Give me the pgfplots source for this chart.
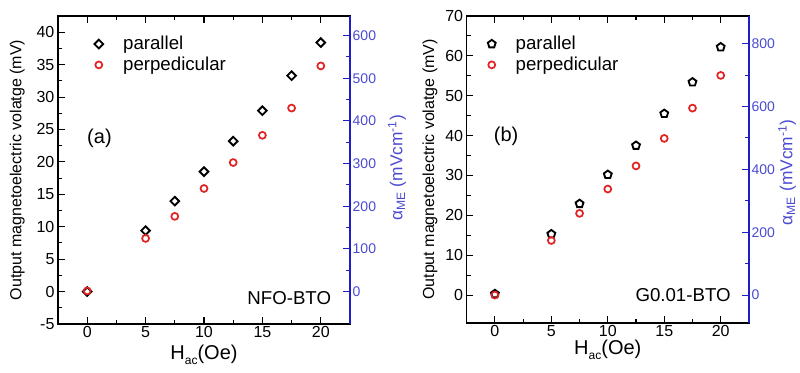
\documentclass[border=0pt]{standalone}
\usepackage{pgfplots}
\pgfplotsset{compat=1.18}
\usepackage{fontspec}
\setmainfont{Liberation Sans}
\usetikzlibrary{plotmarks}
\definecolor{axblue}{RGB}{30,30,200}
\definecolor{lblblue}{RGB}{75,75,210}
\definecolor{mred}{RGB}{225,35,35}

\pgfplotstableread{
x par perp
0 0.0 0.1
5 9.4 8.2
7.5 13.95 11.6
10 18.5 15.9
12.5 23.2 19.9
15 27.9 24.1
17.5 33.3 28.3
20 38.4 34.8
}\dataA
\pgfplotstableread{
x par perp
0 0.3 0.0
5 15.3 13.7
7.5 22.9 20.5
10 30.2 26.6
12.5 37.5 32.4
15 45.5 39.3
17.5 53.4 46.9
20 62.2 55.1
}\dataB

\pgfplotsset{
  base/.style={
    scale only axis,
    /pgf/number format/assume math mode=true,
    tick align=inside,
    major tick length=5pt, minor tick length=3pt,
    every tick/.style={line width=0.8pt},
    axis line style={line width=1pt},
    xmin=-2.5, xmax=22.5,
  },
  main/.style={
    base,
    xtick={0,5,10,15,20}, minor x tick num=1,
    xtick pos=both, xticklabel pos=left,
    ytick pos=left,
    ticklabel style={font=\fontsize{12}{14}\selectfont},
    xticklabel style={inner sep=1.5pt},
    yticklabel style={inner sep=2.5pt},
    xlabel={H\raisebox{-0.55ex}{\fontsize{9}{10}\selectfont ac}(Oe)},
    xlabel style={font=\fontsize{15}{17}\selectfont, anchor=base},
    ylabel={Output magnetoelectric volatge (mV)},
    ylabel style={font=\fontsize{12}{14}\selectfont, anchor=center},
    legend cell align=left,
    legend style={draw=none, fill=none, inner sep=0pt, anchor=north west,
      font=\fontsize{14}{16}\selectfont,
      nodes={inner sep=0pt}, row sep=4pt,
      /tikz/every odd column/.append style={column sep=15pt}},
  },
  right/.style={
    base,
    axis y line*=right, axis x line=none,
    ytick pos=right,
    y axis line style={axblue, line width=1pt},
    ytick style={axblue},
    yticklabel style={lblblue, font=\fontsize{10.5}{12}\selectfont, xshift=-1.5pt},
    ylabel={α\textsubscript{ME} (mVcm\textsuperscript{-1})},
    ylabel style={lblblue, font=\fontsize{13}{15}\selectfont, anchor=center},
  },
  parA/.style={only marks, black, mark=square, mark size=2.3pt, mark options={rotate=45, line width=1.4pt, fill=none}},
  parB/.style={only marks, black, mark=pentagon, mark size=3.1pt, mark options={line width=1.4pt, fill=none}},
  perp/.style={only marks, mred, mark=o, mark size=2.6pt, mark options={line width=1.3pt}},
}

\begin{document}
\begin{tikzpicture}
% ---------- panel (a) ----------
\begin{axis}[main, at={(0pt,0pt)}, anchor=south west,
  width=219pt, height=231pt,
  ymin=-5, ymax=42.5, ytick={-5,0,5,...,40}, minor y tick num=1,
  xlabel style={at={(axis description cs:0.5,-0.114)}},
  ylabel style={at={(axis description cs:-0.140,0.5)}},
  legend style={at={(axis description cs:0.124,0.935)}},
]
\addplot[parA] table[x=x, y=par] {\dataA};
\addlegendentry{parallel}
\addplot[perp] table[x=x, y=perp] {\dataA};
\addlegendentry{perpedicular}
\node[font=\fontsize{15}{17}\selectfont, anchor=center] at (axis cs:1.05,23.7) {(a)};
\node[font=\fontsize{14}{16}\selectfont, anchor=east, inner sep=0pt] at (axis cs:20.9,-1.0) {NFO-BTO};
\end{axis}
\begin{axis}[right, at={(0pt,0pt)}, anchor=south west,
  width=219pt, height=231pt,
  ymin=-76, ymax=646, ytick={0,100,...,600}, minor y tick num=1,
  ylabel style={at={(axis description cs:1.161,0.507)}},
]
\end{axis}
% ---------- panel (b) ----------
\begin{axis}[main, at={(306.5pt,0.75pt)}, anchor=south west,
  width=211.7pt, height=230.25pt,
  ymin=-7, ymax=70, ytick={0,10,...,70}, minor y tick num=1,
  xlabel style={at={(axis description cs:0.5,-0.101)}},
  ylabel style={at={(axis description cs:-0.130,0.5)}},
  legend style={at={(axis description cs:0.074,0.935)}},
]
\addplot[parB] table[x=x, y=par] {\dataB};
\addlegendentry{parallel}
\addplot[perp] table[x=x, y=perp] {\dataB};
\addlegendentry{perpedicular}
\node[font=\fontsize{15}{17}\selectfont, anchor=center] at (axis cs:1.0,39.7) {(b)};
\node[font=\fontsize{14}{16}\selectfont, anchor=east, inner sep=0pt] at (axis cs:20.9,0) {G0.01-BTO};
\end{axis}
\begin{axis}[right, at={(306.5pt,0.75pt)}, anchor=south west,
  width=211.7pt, height=230.25pt,
  ymin=-88.8, ymax=888, ytick={0,200,...,800}, minor y tick num=1,
  ylabel style={at={(axis description cs:1.135,0.49)}},
]
\end{axis}
\pgfresetboundingbox
\path (-43.5pt,-36pt) rectangle (556.5pt,243pt);
\end{tikzpicture}
\end{document}
